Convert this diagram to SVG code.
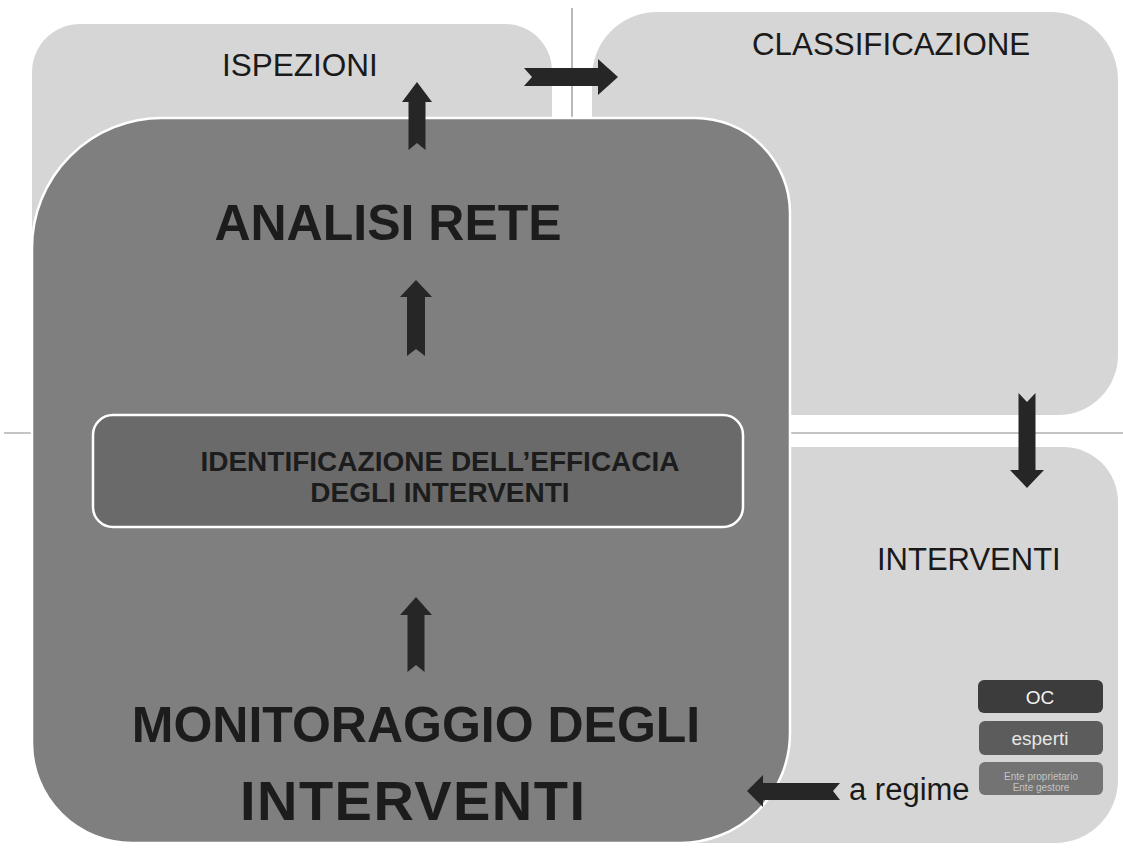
<svg xmlns="http://www.w3.org/2000/svg" width="1123" height="848" viewBox="0 0 1123 848">
<defs>
<style>
.quad{fill:#d6d6d6;}
.guide{stroke:#8a8a8a;stroke-width:1.2;fill:none;}
.arrow{fill:#262626;}
.lbl{font-family:"Liberation Sans",Arial,sans-serif;fill:#1a1a1a;}
.big{font-family:"Liberation Sans",Arial,sans-serif;font-weight:bold;fill:#1c1c1c;text-anchor:middle;}
.leg{font-family:"Liberation Sans",Arial,sans-serif;text-anchor:middle;}
</style>
</defs>
<rect x="0" y="0" width="1123" height="848" fill="#ffffff"/>
<g id="guides">
<line class="guide" x1="4" y1="433" x2="1123" y2="433"/>
<line class="guide" x1="572" y1="8" x2="572" y2="120"/>
</g>
<g id="ispezioni">
<path class="quad" d="M 80 24 H 505 A 47 47 0 0 1 552 71 V 460 H 32 V 72 A 48 48 0 0 1 80 24 Z"/>
<text class="lbl" x="222" y="76" font-size="31.5">ISPEZIONI</text>
</g>
<g id="classificazione">
<path class="quad" d="M 657 12 H 1050 A 68 68 0 0 1 1118 80 V 355 A 60 60 0 0 1 1058 415 H 592 V 77 A 65 65 0 0 1 657 12 Z"/>
<text class="lbl" x="752" y="55" font-size="31.3">CLASSIFICAZIONE</text>
</g>
<g id="interventi">
<path class="quad" d="M 592 447 H 1063 A 55 55 0 0 1 1118 502 V 780 A 63 63 0 0 1 1055 843 H 592 Z"/>
<text class="lbl" x="877" y="570" font-size="31">INTERVENTI</text>
</g>
<g id="monitoraggio">
<path d="M 162 118 H 695 A 95 95 0 0 1 790 213 V 733 A 110 110 0 0 1 680 843 H 132 A 100 100 0 0 1 32 743 V 248 A 130 130 0 0 1 162 118 Z" fill="#7f7f7f" stroke="#ffffff" stroke-width="2.5"/>
<text class="big" x="388" y="240" font-size="50">ANALISI RETE</text>
<text class="big" x="416" y="742" font-size="50">MONITORAGGIO DEGLI</text>
<text class="big" x="240" y="820" font-size="56" textLength="345" lengthAdjust="spacing" style="text-anchor:start">INTERVENTI</text>
</g>
<g id="efficacia">
<rect x="93" y="415" width="650" height="112" rx="20" fill="#6a6a6a" stroke="#ffffff" stroke-width="2.5"/>
<text class="big" x="440" y="471" font-size="28" fill="#222222">IDENTIFICAZIONE DELL’EFFICACIA</text>
<text class="big" x="440" y="502" font-size="28" fill="#222222">DEGLI INTERVENTI</text>
</g>
<g id="legend">
<g id="legend-oc">
<rect x="978" y="680" width="125" height="33" rx="6" fill="#3c3c3c"/>
<text class="leg" x="1040" y="704" font-size="19" fill="#f2f2f2">OC</text>
</g>
<g id="legend-esperti">
<rect x="979" y="721" width="124" height="34" rx="6" fill="#5c5c5c"/>
<text class="leg" x="1040" y="745" font-size="19" fill="#e6e6e6">esperti</text>
</g>
<g id="legend-ente">
<rect x="979" y="762" width="124" height="33" rx="6" fill="#737373"/>
<text class="leg" x="1041" y="780" font-size="10" fill="#c4c4c4">Ente proprietario</text>
<text class="leg" x="1041" y="791" font-size="10" fill="#c4c4c4">Ente gestore</text>
</g>
</g>
<g id="a-regime">
<text class="lbl" x="849" y="800" font-size="31">a regime</text>
</g>
<g id="connectors">
<path class="arrow" d="M 417 82 L 432 102 L 425.5 102 L 425.5 150 L 417 143 L 408.5 150 L 408.5 102 L 402 102 Z"/>
<path class="arrow" d="M 618 77 L 598 59 L 598 68 L 524 68 L 532 77 L 524 86 L 598 86 L 598 95 Z"/>
<path class="arrow" d="M 1027 488 L 1044 470 L 1035.5 470 L 1035.5 393 L 1027 402 L 1018.5 393 L 1018.5 470 L 1010 470 Z"/>
<path class="arrow" d="M 416 280 L 432 297 L 425 297 L 425 356 L 416 349 L 407 356 L 407 297 L 400 297 Z"/>
<path class="arrow" d="M 416 597 L 432 615 L 424.5 615 L 424.5 672 L 416 665 L 407.5 672 L 407.5 615 L 400 615 Z"/>
<path class="arrow" d="M 747 791 L 763 775 L 763 783 L 840 783 L 833 791 L 840 800 L 763 800 L 763 807 Z"/>
</g>
</svg>
